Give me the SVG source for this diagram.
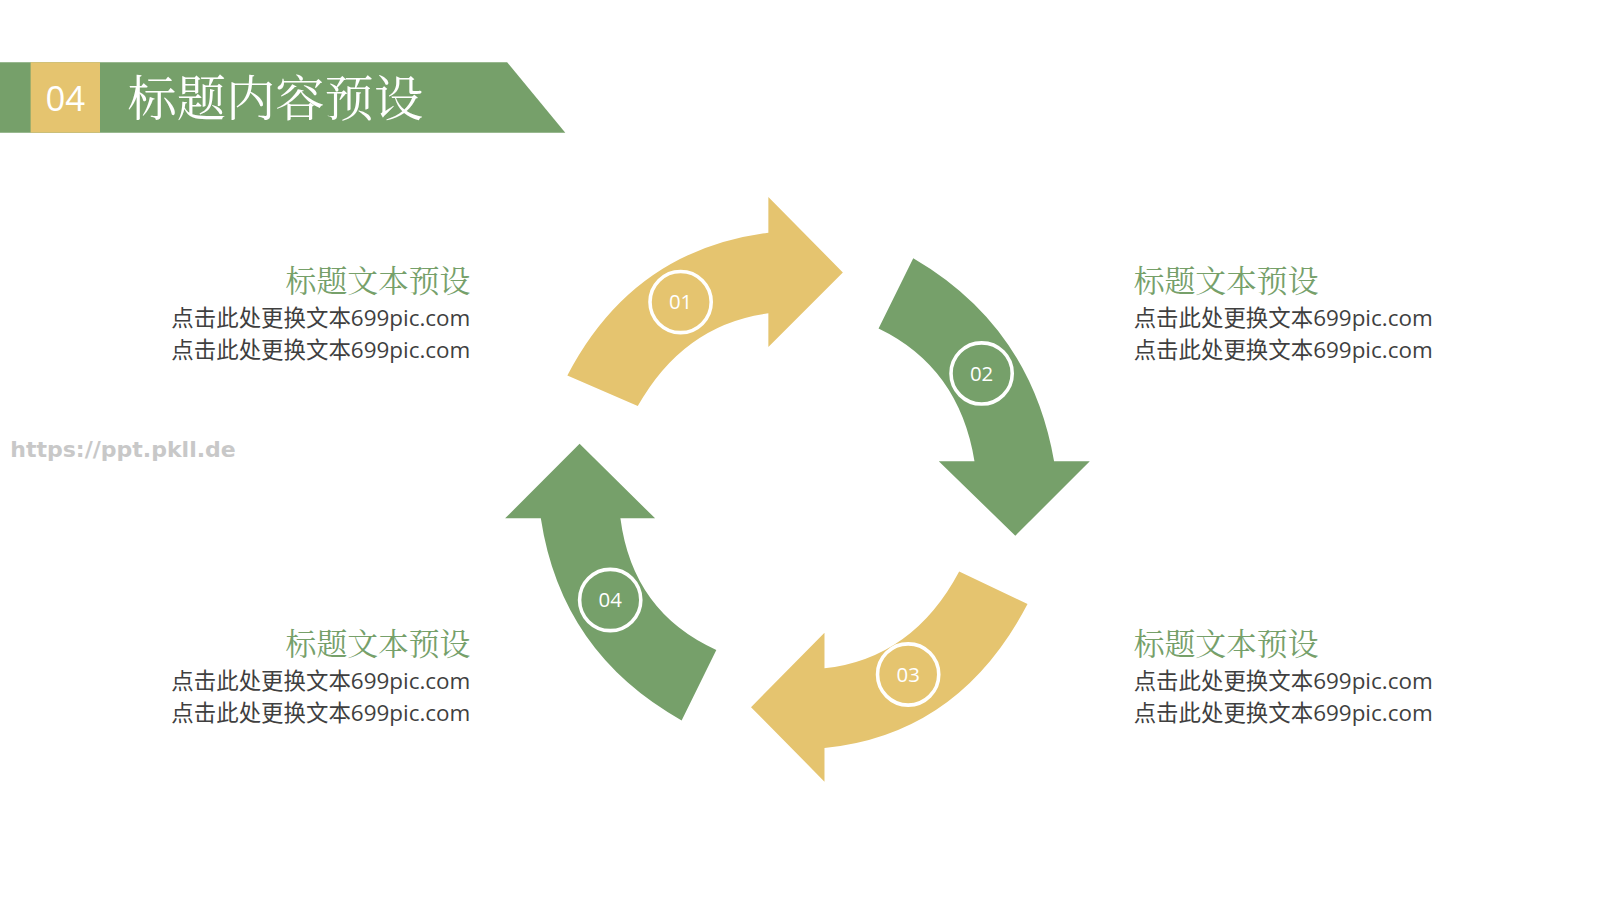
<svg xmlns="http://www.w3.org/2000/svg" width="1600" height="900" viewBox="0 0 1600 900">
<style>
.g{fill:#76a06a}.y{fill:#e5c46f}
.c{fill:none;stroke:#fff;stroke-width:3.5}
.n{font-family:"Open Sans","Noto Sans",sans-serif;font-size:20px;fill:#fff;text-anchor:middle}
.t{font-family:"Noto Serif CJK SC","Noto Sans CJK SC",serif;font-size:30.2px;fill:#76a06a}
.b{font-family:"Open Sans","Noto Sans CJK SC",sans-serif;font-size:22px;fill:#3f3f3f}
.r{text-anchor:end}
</style>
<rect width="1600" height="900" fill="#fff"/>
<g transform="scale(1.0204)">
<g id="header">
<polygon class="g" points="0,61 497,61 554,130 0,130"/>
<rect class="y" x="30" y="61" width="68" height="69"/>
<text x="64" y="109" font-family="Open Sans,sans-serif" font-size="34" fill="#fff" text-anchor="middle">04</text>
<text x="125" y="114" font-family="Noto Serif CJK SC,Noto Sans CJK SC,serif" font-size="48.3" fill="#fff">标题内容预设</text>
</g>
<text x="10" y="448" font-family="DejaVu Sans,sans-serif" font-size="21.6" font-weight="bold" fill="#c8c8c8">https://ppt.pkll.de</text>
<g id="arrow1"><path class="y" d="M556,368 Q620,245 753,228 L753,193 L826,267 L753,340 L753,307 Q670,318 625,398 Z"/><circle class="c" cx="667" cy="296" r="30"/><text class="n" x="667" y="303">01</text></g>
<g id="arrow2"><path class="g" d="M895,253 Q1010,320 1033,452 L1068,452 L995,525 L920,452 L955,452 Q940,360 861,322 Z"/><circle class="c" cx="962" cy="366" r="30"/><text class="n" x="962" y="373">02</text></g>
<g id="arrow3"><path class="y" d="M1007,592 Q940,720 808,733 L808,766 L736,693 L808,620 L808,655 Q895,645 940,560 Z"/><circle class="c" cx="890" cy="661" r="30"/><text class="n" x="890" y="668">03</text></g>
<g id="arrow4"><path class="g" d="M668,706 Q550,640 530,508 L495,508 L568,435 L642,508 L608,508 Q620,600 702,637 Z"/><circle class="c" cx="598" cy="588" r="30"/><text class="n" x="598" y="595">04</text></g>
<g id="text1"><text class="t r" x="461" y="286">标题文本预设</text><text class="b r" x="461" y="319">点击此处更换文本699pic.com</text><text class="b r" x="461" y="351">点击此处更换文本699pic.com</text></g>
<g id="text2"><text class="t" x="1111" y="286">标题文本预设</text><text class="b" x="1111" y="319">点击此处更换文本699pic.com</text><text class="b" x="1111" y="351">点击此处更换文本699pic.com</text></g>
<g id="text3"><text class="t" x="1111" y="642">标题文本预设</text><text class="b" x="1111" y="675">点击此处更换文本699pic.com</text><text class="b" x="1111" y="707">点击此处更换文本699pic.com</text></g>
<g id="text4"><text class="t r" x="461" y="642">标题文本预设</text><text class="b r" x="461" y="675">点击此处更换文本699pic.com</text><text class="b r" x="461" y="707">点击此处更换文本699pic.com</text></g>
<g id="connectors"/>
</g>
</svg>
